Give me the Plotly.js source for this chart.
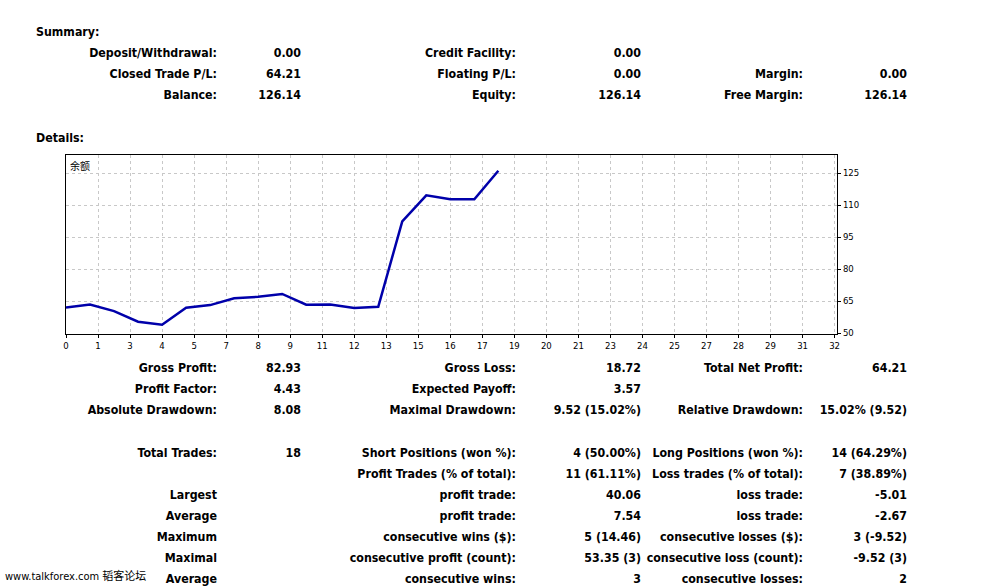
<!DOCTYPE html>
<html>
<head>
<meta charset="utf-8">
<script src="https://cdn.plot.ly/plotly-3.0.1.min.js"></script>
<style>
  html, body { margin: 0; padding: 0; background: #fff; }
  #wrap { position: relative; width: 987px; height: 587px; overflow: hidden; }
  #chart { position: absolute; left: 0; top: 0; width: 987px; height: 587px; }
  .t { position: absolute; white-space: nowrap; line-height: 16px; height: 16px;
       font-family: "DejaVu Sans Condensed", "DejaVu Sans", sans-serif; font-weight: bold;
       font-size: 12.3px; color: #000; }
  .wm { font-weight: normal; font-size: 11px;
        font-family: "DejaVu Sans Condensed", "DejaVu Sans", "Noto Sans CJK SC", sans-serif; }
</style>
</head>
<body>
<div id="wrap">
  <div id="chart"></div>
</div>
<script>
// ---- chart data ----
const tradeIndex = [0, 1, 2, 3, 4, 5, 6, 7, 8, 9, 10, 11, 12, 13, 14, 15, 16, 17, 18];
const balance = [61.93, 63.38, 60.30, 55.29, 53.86, 61.90, 63.10, 66.30, 67.00, 68.32,
                 63.31, 63.40, 61.70, 62.30, 102.36, 114.60, 112.70, 112.74, 126.14];
const xTickLabels = ['0','1','3','4','5','7','8','9','11','12','13','15','16','17',
                     '19','20','21','23','24','25','27','28','29','31','32'];
const yTickValues = [50, 65, 80, 95, 110, 125];
const seriesName = '余额';

// ---- report text ----
const summaryRow1 = ['Deposit/Withdrawal:', '0.00', 'Credit Facility:', '0.00', '', ''];
const summaryRow2 = ['Closed Trade P/L:', '64.21', 'Floating P/L:', '0.00', 'Margin:', '0.00'];
const summaryRow3 = ['Balance:', '126.14', 'Equity:', '126.14', 'Free Margin:', '126.14'];
const detailRow1 = ['Gross Profit:', '82.93', 'Gross Loss:', '18.72', 'Total Net Profit:', '64.21'];
const detailRow2 = ['Profit Factor:', '4.43', 'Expected Payoff:', '3.57', '', ''];
const detailRow3 = ['Absolute Drawdown:', '8.08', 'Maximal Drawdown:', '9.52 (15.02%)', 'Relative Drawdown:', '15.02% (9.52)'];
const tradeRow1 = ['Total Trades:', '18', 'Short Positions (won %):', '4 (50.00%)', 'Long Positions (won %):', '14 (64.29%)'];
const tradeRow2 = ['', '', 'Profit Trades (% of total):', '11 (61.11%)', 'Loss trades (% of total):', '7 (38.89%)'];
const tradeRow3 = ['Largest', '', 'profit trade:', '40.06', 'loss trade:', '-5.01'];
const tradeRow4 = ['Average', '', 'profit trade:', '7.54', 'loss trade:', '-2.67'];
const tradeRow5 = ['Maximum', '', 'consecutive wins ($):', '5 (14.46)', 'consecutive losses ($):', '3 (-9.52)'];
const tradeRow6 = ['Maximal', '', 'consecutive profit (count):', '53.35 (3)', 'consecutive loss (count):', '-9.52 (3)'];
const tradeRow7 = ['Average', '', 'consecutive wins:', '3', 'consecutive losses:', '2'];
const watermark = 'www.talkforex.com 韬客论坛';

// ---- place text ----
const wrap = document.getElementById('wrap');
const colRight = [217, 301, 516, 641, 803, 907];
function put(text, xRight, yCenter, cls) {
  if (!text) return;
  const d = document.createElement('div');
  d.className = 't' + (cls ? ' ' + cls : '');
  d.textContent = text;
  d.style.right = (987 - xRight) + 'px';
  d.style.top = (yCenter - 8) + 'px';
  wrap.appendChild(d);
}
function putLeft(text, xLeft, yCenter, cls) {
  const d = document.createElement('div');
  d.className = 't' + (cls ? ' ' + cls : '');
  d.textContent = text;
  d.style.left = xLeft + 'px';
  d.style.top = (yCenter - 8) + 'px';
  wrap.appendChild(d);
}
function row(arr, y) { arr.forEach((s, i) => put(s, colRight[i], y)); }

putLeft('Summary:', 36, 32);
row(summaryRow1, 52.5);
row(summaryRow2, 73.5);
row(summaryRow3, 94.5);
putLeft('Details:', 36, 137.5);
row(detailRow1, 367.5);
row(detailRow2, 388.5);
row(detailRow3, 409.5);
row(tradeRow1, 452.5);
row(tradeRow2, 473.5);
row(tradeRow3, 494.5);
row(tradeRow4, 515.5);
row(tradeRow5, 536.5);
row(tradeRow6, 557.5);
row(tradeRow7, 578.5);
putLeft(watermark, 5, 577, 'wm');

// ---- chart ----
const xStep = 32 / 24;
const xTickVals = xTickLabels.map((_, i) => i * xStep);

const trace = {
  x: tradeIndex, y: balance, type: 'scatter', mode: 'lines',
  line: { color: '#0000AA', width: 2.5 }, hoverinfo: 'skip', showlegend: false
};

const tickFont = { family: '"DejaVu Sans Condensed", "DejaVu Sans", sans-serif', size: 9.5, color: '#000' };

const layout = {
  width: 987, height: 587,
  margin: { l: 66, r: 150, t: 155, b: 253, pad: 0 },
  paper_bgcolor: 'rgba(0,0,0,0)', plot_bgcolor: '#fff',
  showlegend: false,
  xaxis: {
    range: [0, 32.1], tickmode: 'array', tickvals: xTickVals, ticktext: xTickLabels,
    showgrid: true, gridcolor: '#c8c8c8', griddash: '3px,3px', gridwidth: 1,
    zeroline: false, showline: true, linecolor: '#000', linewidth: 1, mirror: true,
    ticks: 'outside', ticklen: 3, tickcolor: '#000', tickfont: tickFont, fixedrange: true
  },
  yaxis: {
    side: 'right', range: [49.55, 133.5], tickmode: 'array', tickvals: yTickValues,
    showgrid: true, gridcolor: '#c8c8c8', griddash: '3px,3px', gridwidth: 1,
    zeroline: false, showline: true, linecolor: '#000', linewidth: 1, mirror: true,
    ticks: 'outside', ticklen: 3, tickcolor: '#000', tickfont: tickFont, fixedrange: true
  },
  annotations: [{
    text: seriesName, xref: 'paper', yref: 'paper', x: 0, y: 1,
    xanchor: 'left', yanchor: 'top', xshift: 2, yshift: -1, showarrow: false,
    font: { family: '"Noto Sans CJK SC", sans-serif', size: 10, color: '#000' }
  }]
};

Plotly.newPlot('chart', [trace], layout, { displayModeBar: false, staticPlot: true });
</script>
</body>
</html>
